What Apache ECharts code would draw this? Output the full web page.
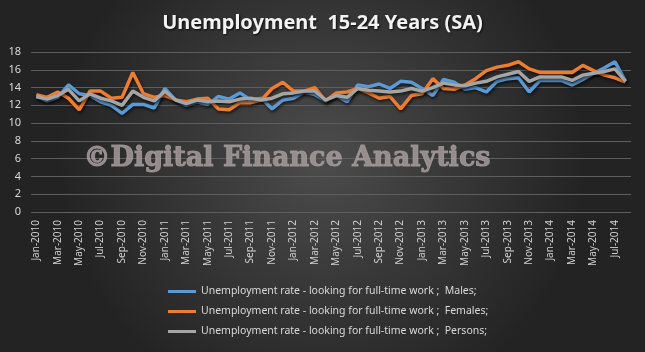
<!DOCTYPE html>
<html>
<head>
<meta charset="utf-8">
<script src="https://cdn.jsdelivr.net/npm/echarts@6/dist/echarts.min.js"></script>
<style>
html,body{margin:0;padding:0;background:#2a2a2a;}
#chart{width:645px;height:352px;}
</style>
</head>
<body>
<div id="chart"></div>
<script>
const titleText = 'Unemployment  15-24 Years (SA)';
const watermarkText = '\u00A9Digital Finance Analytics';
const monthNames = ['Jan','Feb','Mar','Apr','May','Jun','Jul','Aug','Sep','Oct','Nov','Dec'];
const years = [2010, 2011, 2012, 2013, 2014];
const categories = [];
years.forEach(y => monthNames.forEach((m, k) => { if (y < 2014 || k < 8) categories.push(m + '-' + y); }));

const seriesNames = [
  'Unemployment rate - looking for full-time work ;  Males;',
  'Unemployment rate - looking for full-time work ;  Females;',
  'Unemployment rate - looking for full-time work ;  Persons;'
];
const males = [13.0,12.5,12.9,14.3,13.3,13.1,12.4,12.0,11.1,12.1,12.1,11.7,
               13.9,12.6,12.0,12.4,12.1,13.0,12.7,13.4,12.6,12.8,11.6,12.6,
               12.8,13.5,13.2,12.5,13.1,12.4,14.3,14.1,14.4,13.9,14.7,14.6,
               13.9,13.1,14.9,14.6,13.8,14.0,13.5,14.7,15.0,15.1,13.5,14.8,
               14.8,14.8,14.3,14.9,15.6,16.2,16.9,14.7];
const females = [13.2,12.9,13.5,12.8,11.5,13.6,13.6,12.8,12.9,15.7,13.3,12.9,
                 13.1,12.6,12.4,12.7,12.8,11.6,11.5,12.3,12.3,12.6,13.9,14.6,
                 13.6,13.6,14.0,12.5,13.4,13.5,13.9,13.4,12.8,13.0,11.6,13.1,
                 13.3,15.0,13.9,13.8,14.3,15.0,15.9,16.3,16.5,16.9,16.1,15.7,
                 15.7,15.7,15.7,16.5,15.9,15.4,15.1,14.6];
const persons = [13.0,12.7,13.1,13.8,12.5,13.3,12.8,12.5,12.0,13.6,12.9,12.5,
                 13.6,12.6,12.2,12.6,12.4,12.5,12.4,12.7,12.8,12.6,12.8,13.3,
                 13.4,13.6,13.6,12.6,13.1,12.9,13.9,13.7,13.6,13.5,13.6,13.9,
                 13.6,14.0,14.5,14.3,14.2,14.5,14.7,15.2,15.5,15.8,14.7,15.2,
                 15.2,15.2,14.8,15.4,15.6,15.8,16.1,14.7];
const yMin = 0, yMax = 18, yStep = 2;

const colors = ['#5b9bd5', '#ed7d31', '#a5a5a5'];
const dataSets = [males, females, persons];

const chart = echarts.init(document.getElementById('chart'), null, {renderer: 'canvas'});
chart.setOption({
  animation: false,
  backgroundColor: {
    type: 'radial', x: 0.5, y: 0.45, r: 0.75,
    colorStops: [{offset: 0, color: '#4c4c4c'}, {offset: 1, color: '#232323'}]
  },
  title: {
    text: titleText, left: 'center', top: 8,
    textStyle: {color: '#f2f2f2', fontFamily: 'Noto Sans', fontWeight: 'bold', fontSize: 20,
      textShadowColor: 'rgba(0,0,0,0.8)', textShadowBlur: 2, textShadowOffsetX: 1, textShadowOffsetY: 1}
  },
  grid: {left: 31, right: 14, top: 52, bottom: 140, containLabel: false},
  legend: {
    orient: 'vertical', left: 163, top: 281, itemGap: 9,
    icon: 'rect', itemWidth: 28, itemHeight: 3,
    textStyle: {color: '#d9d9d9', fontFamily: 'Noto Sans', fontSize: 10.5},
    data: seriesNames
  },
  graphic: [{
    type: 'text', left: 83, top: 145, z: 1, silent: true,
    style: {text: watermarkText, fill: 'rgba(165,155,155,0.85)', font: 'bold 27px "DejaVu Serif"',
      stroke: 'rgba(165,155,155,0.85)', lineWidth: 1}
  }],
  xAxis: {
    type: 'category', data: categories, boundaryGap: true,
    axisLine: {show: false}, axisTick: {show: false},
    axisLabel: {rotate: 90, interval: 1, color: '#d0d0d0', fontFamily: 'Noto Sans', fontSize: 10, margin: 8}
  },
  yAxis: {
    type: 'value', min: yMin, max: yMax, interval: yStep,
    axisLine: {show: false}, axisTick: {show: false},
    axisLabel: {color: '#d9d9d9', fontFamily: 'Noto Sans', fontSize: 11, margin: 10},
    splitLine: {lineStyle: {color: '#5e5e5e', width: 1}}
  },
  series: dataSets.map((d, k) => ({
    name: seriesNames[k], type: 'line', data: d, showSymbol: false, symbol: 'none', z: 3 + k,
    itemStyle: {color: colors[k]},
    lineStyle: {color: colors[k], width: 3.5,
      shadowColor: 'rgba(0,0,0,0.6)', shadowBlur: 3, shadowOffsetX: 1, shadowOffsetY: 2}
  }))
});
</script>
</body>
</html>
